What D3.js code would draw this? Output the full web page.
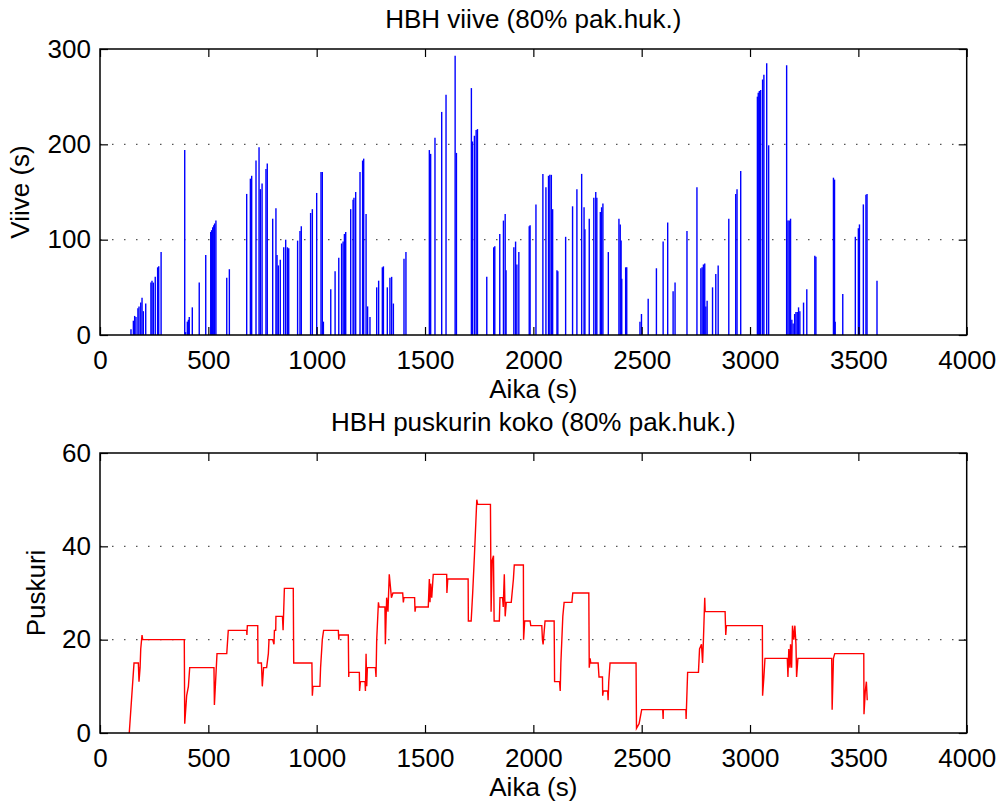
<!DOCTYPE html>
<html>
<head>
<meta charset="utf-8">
<script src="https://cdn.jsdelivr.net/npm/d3@7"></script>
<style>
  body { margin: 0; background: #fff; }
  svg { display: block; }
  text { font-family: "Liberation Sans", Arial, sans-serif; fill: #000; }
</style>
</head>
<body>
<svg width="1001" height="803"></svg>
<script>
// HBH delay spikes (time s, delay s)
var delayTimes = [143,154,160,166,175,180,188,194,200,211,235,240,246,255,266,271,282,
  391,395,403,408,412,426,458,488,511,515,520,525,529,535,585,597,
  677,694,700,720,734,740,748,766,772,797,812,817,823,832,848,857,865,871,912,923,929,972,980,1000,1020,1026,1031,
  1065,1085,1102,1115,1122,1128,1134,1157,1168,1172,1180,1200,1212,1217,1228,1235,1246,1277,1286,1303,1308,
  1326,1338,1346,1354,1403,1412,1520,1526,1546,1577,1597,1639,1645,1714,1719,1728,1736,1742,1785,1817,1822,
  1845,1862,1870,1874,1910,1918,1924,1933,1981,1985,2012,2044,2058,2070,2076,2083,2089,2109,2113,2149,2181,
  2201,2223,2234,2238,2258,2279,2288,2293,2309,2315,2321,2346,2395,2401,2405,2408,2426,2431,2492,2499,2530,
  2568,2599,2620,2645,2654,2709,2755,2773,2779,2785,2791,2796,2802,2827,2842,2853,2902,2934,2940,2957,
  3034,3038,3043,3049,3058,3064,3077,3086,3169,3175,3181,3187,3193,3199,3206,3212,3218,3224,3230,3247,3262,
  3299,3304,3385,3390,3393,3428,3486,3500,3505,3523,3535,3540,3586]
var delayValues = [6,15,20,19,28,30,34,39,25,33,55,57,55,61,71,72,87,
  194,3,14,16,19,29,55,84,108,110,113,115,117,120,60,69,
  148,164,167,183,197,153,159,174,180,122,133,84,73,79,92,100,92,91,99,109,114,128,132,149,171,171,14,
  48,67,81,96,98,106,108,132,142,144,150,171,183,185,127,30,19,50,57,71,72,
  50,60,61,33,80,87,194,190,207,234,252,293,191,259,203,209,215,216,61,92,93,
  106,120,127,68,92,98,74,87,114,115,137,169,155,167,168,168,132,68,67,103,135,
  153,169,134,111,122,144,150,144,129,134,138,87,122,116,99,59,71,71,14,22,38,
  70,98,118,46,55,109,155,70,71,74,75,30,36,50,64,73,122,148,153,172,
  250,254,256,257,268,273,285,199,283,120,120,122,16,12,22,24,24,29,25,34,48,
  83,82,165,163,14,43,103,112,116,137,147,148,57]

// HBH buffer size (time s, packets)
var bufferTimes = [135,157,177,180,185,188,194,197,389,391,400,408,414,526,528,540,585,592,677,678,680,
  728,729,745,749,755,769,777,780,797,803,805,811,812,842,845,851,892,894,978,980,983,1015,1018,1026,1032,
  1100,1102,1103,1146,1148,1149,1197,1198,1202,1223,1225,1228,1231,1234,1271,1274,1277,1285,1288,1315,
  1317,1323,1329,1335,1339,1345,1352,1397,1400,1403,1452,1454,1457,1515,1520,1523,1526,1531,1538,1600,1601,1605,
  1699,1700,1713,1720,1728,1739,1743,1802,1805,1810,1816,1819,1843,1846,1858,1861,1866,1870,1875,1898,1908,1912,
  1954,1955,1960,1985,1988,2039,2042,2045,2054,2096,2098,2121,2124,2127,2136,2142,2178,2182,2256,2258,2262,2265,
  2299,2303,2319,2320,2323,2343,2345,2348,2354,2474,2476,2488,2500,2597,2599,2600,2704,2705,2712,2762,2767,2776,
  2781,2785,2791,2793,2885,2888,2891,3057,3058,3064,3069,3172,3175,3179,3184,3187,3192,3196,3202,3207,3212,3215,
  3221,3377,3379,3385,3391,3525,3526,3532,3537,3541]
var bufferValues = [0,15,15,11,14,18,21,20,20,2,8,10,14,14,6,17,17,22,22,21,23,
  23,15,15,10,14,14,17,20,20,19,22,22,25,25,22,31,31,15,15,8,10,10,14,20,22,
  22,20,21,21,12,13,13,9,11,11,9,17,10,14,14,12,20,28,27,27,
  19,29,26,34,32,29,30,30,28,29,29,26,27,27,33,28,32,29,34,34,30,33,
  33,24,24,30,38,50,49,49,26,37,38,24,24,29,29,27,34,25,28,28,33,36,
  36,20,24,24,23,23,20,19,24,24,11,11,9,15,25,28,28,30,30,14,16,15,
  15,12,12,8,9,9,7,11,15,15,1,2,5,5,3,5,5,3,13,13,18,19,
  15,20,29,26,26,21,23,23,8,12,16,16,12,18,14,19,14,23,20,23,19,12,
  16,16,5,16,17,17,4,9,11,7]

var xTicks = [0,500,1000,1500,2000,2500,3000,3500,4000]
var delayTicks = [0,100,200,300]
var bufferTicks = [0,20,40,60]

var svg = d3.select('svg')
var left = 100, right = 966.7

var x = d3.scaleLinear().domain([0, 4000]).range([left, right])

function panel(cfg) {
    var y = d3.scaleLinear().domain(cfg.ydomain).range([cfg.bottom, cfg.top])
    var g = svg.append('g')

    // dotted grid at the inner y ticks
    g.selectAll('line.grid')
        .data(cfg.yticks.filter(function (d) { return d > cfg.ydomain[0] && d < cfg.ydomain[1] }))
        .enter().append('line')
        .attr('x1', left).attr('x2', right)
        .attr('y1', function (d) { return y(d) }).attr('y2', function (d) { return y(d) })
        .attr('stroke', '#555').attr('stroke-width', 1.2)
        .attr('stroke-dasharray', '1.5,10.5')

    cfg.draw(g, y)

    var bx = d3.axisBottom(x).tickValues(xTicks).tickSize(-8).tickSizeOuter(0).tickPadding(15)
        .tickFormat(d3.format('d'))
    var gx = g.append('g').attr('transform', 'translate(0,' + cfg.bottom + ')').call(bx)
    var tx = d3.axisTop(x).tickValues(xTicks).tickSize(-8).tickSizeOuter(0).tickFormat('')
    var gt = g.append('g').attr('transform', 'translate(0,' + cfg.top + ')').call(tx)
    var ly = d3.axisLeft(y).tickValues(cfg.yticks).tickSize(-8).tickSizeOuter(0).tickPadding(9)
    var gy = g.append('g').attr('transform', 'translate(' + left + ',0)').call(ly)
    var ry = d3.axisRight(y).tickValues(cfg.yticks).tickSize(-8).tickSizeOuter(0).tickFormat('')
    var gr = g.append('g').attr('transform', 'translate(' + right + ',0)').call(ry)

    ;[gx, gt, gy, gr].forEach(function (a) {
        a.select('.domain').remove()
        a.selectAll('line').attr('stroke', '#000').attr('stroke-width', 1.2)
        a.selectAll('text').style('font-size', '26px').attr('fill', '#000')
    })
    gx.selectAll('.tick text').attr('dy', '0.72em')

    g.append('rect')
        .attr('x', left).attr('y', cfg.top)
        .attr('width', right - left).attr('height', cfg.bottom - cfg.top)
        .attr('fill', 'none').attr('stroke', '#000').attr('stroke-width', 1.5)

    g.append('text').attr('x', (left + right) / 2).attr('y', cfg.titleY)
        .attr('text-anchor', 'middle').style('font-size', '26px').text(cfg.title)
    g.append('text').attr('x', (left + right) / 2).attr('y', cfg.bottom + 63)
        .attr('text-anchor', 'middle').style('font-size', '26px').text('Aika (s)')
    g.append('text')
        .attr('transform', 'translate(' + cfg.ylabelX + ',' + ((cfg.top + cfg.bottom) / 2) + ') rotate(-90)')
        .attr('text-anchor', 'middle').style('font-size', '26px').text(cfg.ylabel)
}

panel({
    top: 49, bottom: 335, ydomain: [0, 300], yticks: delayTicks,
    title: 'HBH viive (80% pak.huk.)', titleY: 28,
    ylabel: 'Viive (s)', ylabelX: 29,
    draw: function (g, y) {
        g.selectAll('line.spike')
            .data(delayTimes)
            .enter().append('line')
            .attr('class', 'spike')
            .attr('x1', function (d) { return x(d) })
            .attr('x2', function (d) { return x(d) })
            .attr('y1', y(0))
            .attr('y2', function (d, i) { return y(delayValues[i]) })
            .attr('stroke', '#0000ff').attr('stroke-width', 1.4)
    }
})

panel({
    top: 453, bottom: 733, ydomain: [0, 60], yticks: bufferTicks,
    title: 'HBH puskurin koko (80% pak.huk.)', titleY: 431,
    ylabel: 'Puskuri', ylabelX: 45,
    draw: function (g, y) {
        var line = d3.line()
            .x(function (d) { return x(d) })
            .y(function (d, i) { return y(bufferValues[i]) })
        g.append('path')
            .datum(bufferTimes)
            .attr('d', line)
            .attr('fill', 'none')
            .attr('stroke', '#ff0000').attr('stroke-width', 1.4)
    }
})
</script>
</body>
</html>
